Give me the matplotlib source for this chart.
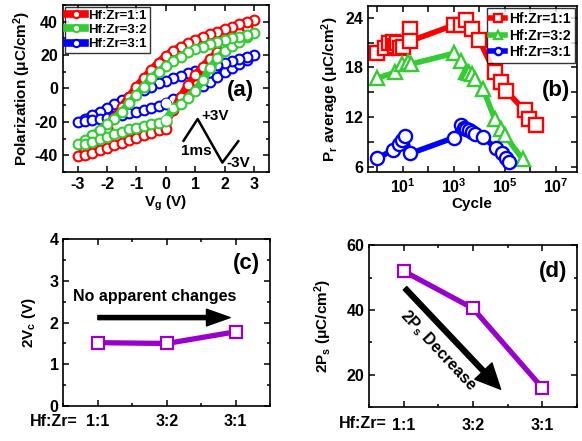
import matplotlib
matplotlib.use("Agg")
import matplotlib.pyplot as plt
from matplotlib.ticker import MultipleLocator, NullFormatter, FixedLocator

plt.rcParams['font.family'] = ['Liberation Sans', 'DejaVu Sans']
plt.rcParams['font.weight'] = 'bold'
plt.rcParams['axes.labelweight'] = 'bold'
plt.rcParams['axes.unicode_minus'] = False
plt.rcParams['mathtext.fontset'] = 'custom'
plt.rcParams['mathtext.rm'] = 'Liberation Sans:bold'
plt.rcParams['mathtext.it'] = 'Liberation Sans:bold'
plt.rcParams['mathtext.bf'] = 'Liberation Sans:bold'
plt.rcParams['mathtext.default'] = 'bf'

# ---------------- data ----------------
# (a) P-V loops: sweep 0 -> +3 -> -3 -> 0
V_LOOP = [0, 0.25, 0.5, 0.75, 1, 1.25, 1.5, 1.75, 2, 2.25, 2.5, 2.75, 3,
          2.75, 2.5, 2.25, 2, 1.75, 1.5, 1.25, 1, 0.75, 0.5, 0.25, 0,
          -0.25, -0.5, -0.75, -1, -1.25, -1.5, -1.75, -2, -2.25, -2.5, -2.75, -3,
          -2.75, -2.5, -2.25, -2, -1.75, -1.5, -1.25, -1, -0.75, -0.5, -0.25, 0]
P_11 = [-20, -13, -5, 2, 8, 13, 17.5, 21.5, 25.5, 29.5, 33, 37, 41,
        40, 38.5, 37, 35.5, 34, 32.5, 31, 29, 27, 25, 22.5, 19.5,
        15.5, 11, 6, 1, -5, -11, -17.5, -23.5, -28.5, -33, -37, -40.5,
        -40, -38.5, -37, -35.5, -34, -32.5, -31, -29.5, -28, -26.5, -25, -24]
P_32 = [-19, -12, -9.5, -6, -1.5, 5, 12, 18, 22.5, 25.5, 28, 30.5, 33,
        32, 31, 30, 29, 28, 26.5, 25, 23.5, 21.5, 19, 16.5, 13.5,
        10, 6, 1, -4, -9, -14, -18, -21.5, -25, -28, -31, -33.5,
        -33, -32, -30.5, -29, -27.5, -26, -24.5, -23.5, -22.5, -21.5, -20.5, -19.5]
P_31 = [-8.5, -6.5, -5, -3, -1, 1.5, 4, 7, 10, 12, 14.5, 17, 20,
        19, 17.5, 16.5, 15.5, 14, 13, 11.5, 10.5, 9, 7.5, 6, 4.5,
        3, 1, -1, -3, -5, -7, -9.5, -12, -14, -16, -18, -20,
        -19.5, -19, -18, -17.5, -16.5, -16, -15, -14, -13, -12, -10.5, -9.5]

# (b) Pr average vs cycles
CYC_11 = [1, 2, 3, 4, 5, 6, 8, 10, 20, 20, 1000, 2000, 3000, 5000, 1e4,
          4e4, 7e4, 1.1e5, 6e5, 9e5, 1.7e6]
PR_11 = [19.8, 20.3, 20.9, 21.1, 20.6, 20.9, 20.4, 20.5, 22.6, 21.2, 23.1, 23.1,
         23.7, 22.7, 21.3, 17.4, 16.2, 15.2, 12.8, 11.8, 11.0]
CYC_32 = [1, 5, 9, 16, 21, 1000, 2000, 3000, 3500, 4000, 5000, 7000, 1.4e4,
          4e4, 7e4, 1e5, 5e5]
PR_32 = [16.7, 17.4, 18.4, 18.7, 18.4, 19.7, 18.8, 17.5, 17.4, 17.3, 17.2, 16.6,
         15.4, 11.8, 10.6, 9.8, 6.9]
CYC_31 = [1, 4, 7, 9, 12, 20, 1000, 2000, 2500, 3000, 4000, 5000, 7000, 1.4e4,
          4.5e4, 8e4, 1.1e5, 1.5e5]
PR_31 = [7.0, 8.0, 8.8, 9.2, 9.7, 7.6, 9.5, 11.0, 10.7, 10.5, 10.4, 10.2, 9.9, 9.6,
         8.2, 7.6, 7.0, 6.6]

# (c), (d)
RATIOS = ['1:1', '3:2', '3:1']
VC2 = [1.52, 1.50, 1.78]
PS2 = [52, 40.5, 16]

LABELS = ['Hf:Zr=1:1', 'Hf:Zr=3:2', 'Hf:Zr=3:1']
RED, GREEN, BLUE, PURPLE = '#ff0000', '#33cc33', '#0000ff', '#9900cc'

fig = plt.figure(figsize=(5.82, 4.41), dpi=100)

def style(ax, fs=11.5):
    for s in ax.spines.values():
        s.set_linewidth(1.2)
    ax.tick_params(which='both', direction='in', top=True, right=True, width=1.1,
                   labelsize=fs)
    ax.tick_params(which='major', length=4)
    ax.tick_params(which='minor', length=2.5)

# ---------------- (a) ----------------
axa = fig.add_axes([0.108, 0.610, 0.354, 0.379])
order = [(P_31, BLUE, LABELS[2]), (P_11, RED, LABELS[0]), (P_32, GREEN, LABELS[1])]
handles = {}
for P, c, lab in order:
    h, = axa.plot(V_LOOP, P, '-o', color=c, lw=5.5, ms=7, mfc='white', mec=c,
                  mew=1.5, label=lab)
    handles[lab] = h
for P in (P_31, P_32):
    axa.plot(V_LOOP[0], P[0], 'o', ms=6, mfc='white', mec='white', zorder=5)
axa.set_xlim(-3.5, 3.5)
axa.set_ylim(-50, 50)
axa.xaxis.set_major_locator(MultipleLocator(1))
axa.yaxis.set_major_locator(MultipleLocator(20))
axa.yaxis.set_minor_locator(MultipleLocator(10))
style(axa)
axa.set_xlabel('V$_g$ (V)', fontsize=11, labelpad=1)
axa.set_ylabel('Polarization (μC/cm$^2$)', fontsize=11, labelpad=1)
leg = axa.legend([handles[l] for l in LABELS], LABELS, loc='upper left', fontsize=9.5,
                 frameon=True, fancybox=False, edgecolor='black', borderaxespad=0.15,
                 handlelength=1.3, handletextpad=0.3, borderpad=0.2, labelspacing=0.15,
                 markerscale=0.75)
leg.get_frame().set_linewidth(1.0)
for t in leg.get_texts():
    t.set_fontweight('bold')
axa.text(0.86, 0.49, '(a)', transform=axa.transAxes, fontsize=16, fontweight='bold',
         ha='center', va='center')
# waveform sketch
axa.plot([0.6, 1.08, 1.92, 2.46], [-31.3, -18.3, -44.4, -31.6], color='black', lw=1.8)
axa.text(1.22, -16.8, '+3V', fontsize=11, fontweight='bold', ha='left', va='center')
axa.text(1.02, -37.5, '1ms', fontsize=11, fontweight='bold', ha='center', va='center')
axa.text(2.04, -44.4, '-3V', fontsize=11, fontweight='bold', ha='left', va='center')

# ---------------- (b) ----------------
axb = fig.add_axes([0.632, 0.610, 0.359, 0.376])
for cyc, pr, c, m, lab in [(CYC_11, PR_11, RED, 's', LABELS[0]),
                           (CYC_32, PR_32, GREEN, '^', LABELS[1]),
                           (CYC_31, PR_31, BLUE, 'o', LABELS[2])]:
    axb.plot(cyc, pr, '-', marker=m, color=c, lw=4, ms=9.5, mfc='white', mec=c,
             mew=1.7, label=lab)
axb.set_xscale('log')
axb.set_xlim(10 ** -0.37, 10 ** 7.82)
axb.set_ylim(5.36, 25.4)
axb.xaxis.set_major_locator(FixedLocator([10, 1e3, 1e5, 1e7]))
axb.xaxis.set_minor_locator(FixedLocator([1, 100, 1e4, 1e6]))
axb.xaxis.set_minor_formatter(NullFormatter())
axb.yaxis.set_major_locator(MultipleLocator(6))
axb.yaxis.set_minor_locator(MultipleLocator(3))
style(axb)
axb.tick_params(which='minor', length=4)
axb.set_xlabel('Cycle', fontsize=11, labelpad=1)
axb.set_ylabel('P$_r$ average (μC/cm$^2$)', fontsize=11, labelpad=3)
legb = axb.legend(loc='upper right', fontsize=10, frameon=True, fancybox=False,
                  edgecolor='black', borderaxespad=0.15, handlelength=1.1,
                  handletextpad=0.3, borderpad=0.25, labelspacing=0.2, markerscale=0.55)
legb.get_frame().set_linewidth(1.0)
for t in legb.get_texts():
    t.set_fontweight('bold')
axb.text(0.90, 0.49, '(b)', transform=axb.transAxes, fontsize=16, fontweight='bold',
         ha='center', va='center')

# ---------------- (c) ----------------
axc = fig.add_axes([0.109, 0.079, 0.355, 0.379])
xc = list(range(len(RATIOS)))
axc.plot(xc, VC2, '-s', color=PURPLE, lw=3.8, ms=9, mfc='white', mec=PURPLE, mew=1.6)
axc.set_xlim(-0.5, 2.5)
axc.set_ylim(0, 4)
axc.set_xticks(xc)
axc.set_xticklabels(RATIOS)
axc.xaxis.set_minor_locator(MultipleLocator(0.5))
axc.yaxis.set_major_locator(MultipleLocator(1))
axc.yaxis.set_minor_locator(MultipleLocator(0.5))
style(axc, fs=11.5)
axc.tick_params(axis='x', pad=6)
axc.set_ylabel('2V$_c$ (V)', fontsize=11, labelpad=8)
axc.annotate('', xy=(1.92, 2.12), xytext=(0.0, 2.12),
             arrowprops=dict(width=3, headwidth=12, headlength=17, color='black', shrink=0))
axc.text(0.82, 2.63, 'No apparent changes', fontsize=11.5, fontweight='bold',
         ha='center', va='center')
axc.text(0.887, 0.855, '(c)', transform=axc.transAxes, fontsize=16, fontweight='bold',
         ha='center', va='center')
fig.text(0.134, 0.044, 'Hf:Zr=', fontsize=11.5, fontweight='bold', ha='right', va='center')

# ---------------- (d) ----------------
axd = fig.add_axes([0.634, 0.077, 0.357, 0.367])
axd.plot(xc, PS2, '-s', color=PURPLE, lw=3.8, ms=9, mfc='white', mec=PURPLE, mew=1.6)
axd.set_xlim(-0.5, 2.5)
axd.set_ylim(10, 60)
axd.set_xticks(xc)
axd.set_xticklabels(RATIOS)
axd.xaxis.set_minor_locator(MultipleLocator(0.5))
axd.yaxis.set_major_locator(MultipleLocator(20))
axd.yaxis.set_minor_locator(MultipleLocator(10))
style(axd, fs=11.5)
axd.tick_params(axis='x', pad=8)
axd.set_ylabel('2P$_s$ (μC/cm$^2$)', fontsize=11, labelpad=9)
axd.annotate('', xy=(1.40, 15.5), xytext=(0.02, 46.7),
             arrowprops=dict(width=3.5, headwidth=17, headlength=18, color='black', shrink=0))
axd.text(0.50, 27.5, '2P$_s$ Decrease', fontsize=11.5, fontweight='bold',
         ha='center', va='center', rotation=-47)
axd.text(0.887, 0.835, '(d)', transform=axd.transAxes, fontsize=16, fontweight='bold',
         ha='center', va='center')
fig.text(0.664, 0.039, 'Hf:Zr=', fontsize=11.5, fontweight='bold', ha='right', va='center')

fig.savefig('out.png', dpi=100)
